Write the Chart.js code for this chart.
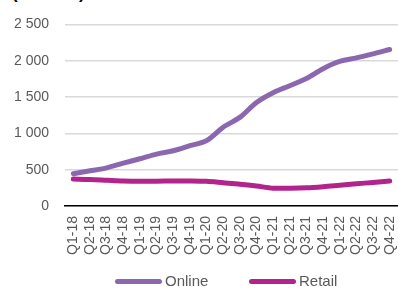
<!DOCTYPE html>
<html lang="en">
<head>
    <meta charset="UTF-8">
    <title>Online vs Retail</title>
    <script src="https://cdn.jsdelivr.net/npm/chart.js@4.4.0/dist/chart.umd.min.js"></script>
    <style>
        body {
            margin: 0;
            background: #fff;
            font-family: 'Liberation Sans', Arial, sans-serif;
        }
        .wrap {
            position: relative;
            width: 398px;
            height: 287px;
            overflow: hidden;
        }
        .unit {
            position: absolute;
            left: 12px;
            top: -16px;
            font-size: 17px;
            font-weight: bold;
            color: #000;
        }
        canvas {
            position: absolute;
            left: 0;
            top: 0;
        }
        /* legend drawn in html so the gap between items can match */
        .legend {
            position: absolute;
            top: 273px;
            left: 0;
            width: 398px;
            height: 16px;
        }
        .item {
            position: absolute;
            top: 0;
            display: flex;
            align-items: center;
            font-size: 15px;
            color: #595959;
            line-height: 16px;
        }
        .swatch {
            width: 47px;
            height: 5px;
            border-radius: 3px;
            margin-right: 3px;
        }
    </style>
</head>
<body>
<div class="wrap">
    <div class="unit">(USD bn)</div>
    <canvas id="chart" width="398" height="287"></canvas>
    <div class="legend" id="legend"></div>
</div>
<script>
    // quarters on the x axis
    const quarters = ['Q1-18','Q2-18','Q3-18','Q4-18','Q1-19','Q2-19','Q3-19','Q4-19',
                      'Q1-20','Q2-20','Q3-20','Q4-20','Q1-21','Q2-21','Q3-21','Q4-21',
                      'Q1-22','Q2-22','Q3-22','Q4-22'];
    const online = [445, 485, 525, 590, 650, 715, 760, 830, 900, 1085, 1220, 1425,
                    1560, 1655, 1755, 1890, 1990, 2040, 2095, 2155];
    const retail = [370, 365, 355, 345, 340, 340, 345, 345, 340, 320, 300, 275,
                    245, 245, 250, 265, 285, 305, 325, 345];
    const yTicks = [0, 500, 1000, 1500, 2000, 2500];

    const fmt = v => String(v).replace(/\B(?=(\d{3})+(?!\d))/g, ' ');
    const FONT = "'Liberation Sans', Arial, sans-serif";

    const ctx = document.getElementById('chart').getContext('2d');
    const chart = new Chart(ctx, {
        type: 'line',
        data: {
            labels: quarters,
            datasets: [
                {
                    label: 'Online',
                    data: online,
                    borderColor: '#8b67b0',
                    backgroundColor: '#8b67b0',
                    borderWidth: 5,
                    pointRadius: 0,
                    tension: 0.3,
                    borderCapStyle: 'round'
                },
                {
                    label: 'Retail',
                    data: retail,
                    borderColor: '#b3238e',
                    backgroundColor: '#b3238e',
                    borderWidth: 5,
                    pointRadius: 0,
                    tension: 0.3,
                    borderCapStyle: 'round'
                }
            ]
        },
        options: {
            responsive: false,
            animation: false,
            layout: { padding: { top: 17, right: -3, left: 8, bottom: 21 } },
            plugins: {
                tooltip: { enabled: false },
                legend: { display: false }
            },
            scales: {
                x: {
                    offset: true,
                    grid: { display: false, drawTicks: false },
                    border: { color: '#000', width: 1.5 },
                    afterFit: axis => {
                        axis.height = 60;
                        axis.paddingLeft = 0;
                        axis.paddingRight = 0;
                    },
                    ticks: {
                        color: '#595959',
                        font: { family: FONT, size: 14 },
                        maxRotation: 90,
                        minRotation: 90,
                        autoSkip: false,
                        padding: 10
                    }
                },
                y: {
                    min: 0,
                    max: 2500,
                    afterBuildTicks: axis => { axis.ticks = yTicks.map(v => ({ value: v })); },
                    afterFit: axis => { axis.width = 57; },
                    grid: { color: '#d9d9d9', lineWidth: 1.5, drawTicks: false },
                    border: { display: false },
                    ticks: {
                        color: '#595959',
                        font: { family: FONT, size: 14 },
                        padding: 16,
                        callback: v => fmt(v)
                    }
                }
            }
        }
    });

    // html legend, positions
    const legendPos = [115, 249];
    const legend = document.getElementById('legend');
    chart.data.datasets.forEach((ds, i) => {
        const item = document.createElement('div');
        item.className = 'item';
        item.style.left = legendPos[i] + 'px';
        item.innerHTML = `<span class="swatch" style="background:${ds.borderColor}"></span>${ds.label}`;
        legend.appendChild(item);
    });
</script>
</body>
</html>
